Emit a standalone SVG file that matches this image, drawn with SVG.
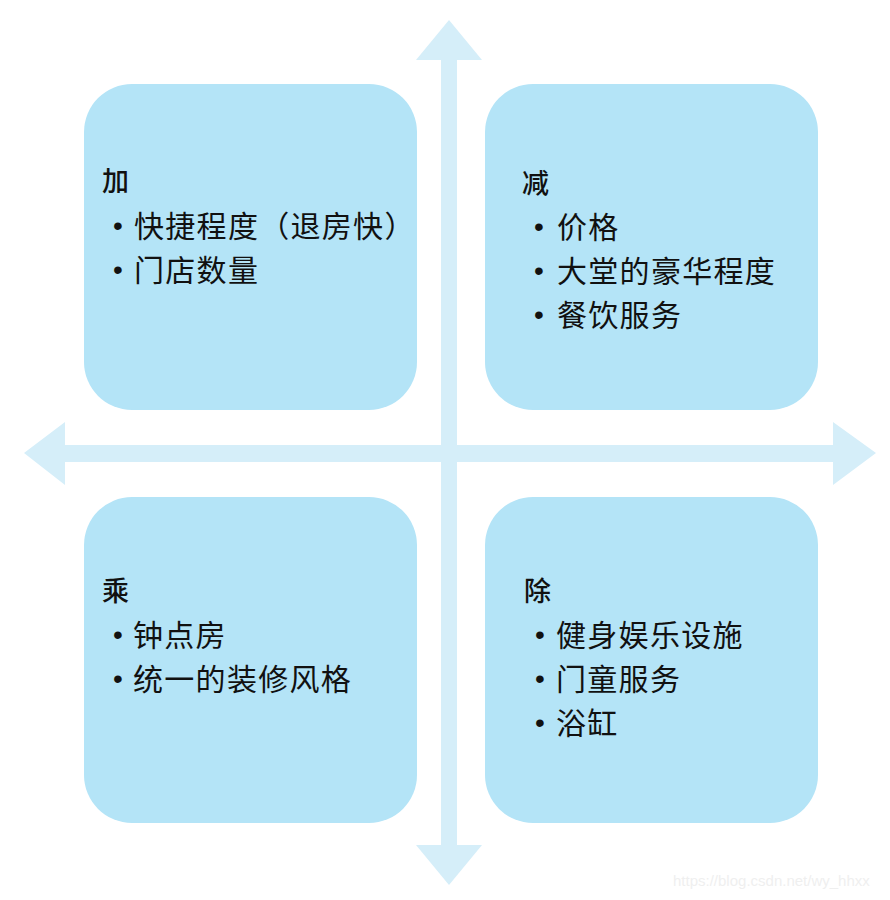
<svg xmlns="http://www.w3.org/2000/svg" width="890" height="900" viewBox="0 0 890 900">
<style>
.box{fill:#b4e4f7}
.arrow{fill:#d5eef9}
.h{font-family:"Noto Sans CJK SC","Noto Sans",sans-serif;font-size:27px;font-weight:500;fill:#111}
.t{font-family:"Noto Sans CJK SC","Noto Sans",sans-serif;font-size:30px;letter-spacing:1.3px;fill:#111}
.b{font-family:"Liberation Sans",Arial,sans-serif;font-size:28px;fill:#111;text-anchor:middle}
.wm{font-family:"Liberation Sans",Arial,sans-serif;font-size:15px;fill:#efefef}
</style>
<rect width="890" height="900" fill="#ffffff"/>
<g id="connectors">
<polygon class="arrow" points="441,60 416,60 449,20 482,60 457,60 457,845 482,845 449,885 416,845 441,845"/>
<polygon class="arrow" points="65,445 65,422 24,453 65,485 65,462 833,462 833,485 876,453 833,422 833,445"/>
</g>
<g id="add">
<rect class="box" x="84" y="84" width="333" height="326" rx="48"/>
<text class="h" x="102" y="191">加</text>
<text class="b" x="118" y="235">•</text>
<text class="t" x="134" y="237">快捷程度（退房快）</text>
<text class="b" x="118" y="279">•</text>
<text class="t" x="134" y="281">门店数量</text>
</g>
<g id="subtract">
<rect class="box" x="485" y="84" width="333" height="326" rx="48"/>
<text class="h" x="522" y="193">减</text>
<text class="b" x="539" y="236">•</text>
<text class="t" x="557" y="238">价格</text>
<text class="b" x="539" y="280">•</text>
<text class="t" x="557" y="282">大堂的豪华程度</text>
<text class="b" x="539" y="324">•</text>
<text class="t" x="557" y="326">餐饮服务</text>
</g>
<g id="multiply">
<rect class="box" x="84" y="497" width="333" height="326" rx="48"/>
<text class="h" x="102" y="601">乘</text>
<text class="b" x="118" y="644">•</text>
<text class="t" x="133" y="646">钟点房</text>
<text class="b" x="118" y="688">•</text>
<text class="t" x="133" y="690">统一的装修风格</text>
</g>
<g id="divide">
<rect class="box" x="485" y="497" width="333" height="326" rx="48"/>
<text class="h" x="524" y="601">除</text>
<text class="b" x="540" y="644">•</text>
<text class="t" x="556" y="646">健身娱乐设施</text>
<text class="b" x="540" y="688">•</text>
<text class="t" x="556" y="690">门童服务</text>
<text class="b" x="540" y="732">•</text>
<text class="t" x="556" y="734">浴缸</text>
</g>
<text class="wm" x="673" y="886">https://blog.csdn.net/wy_hhxx</text>
</svg>
